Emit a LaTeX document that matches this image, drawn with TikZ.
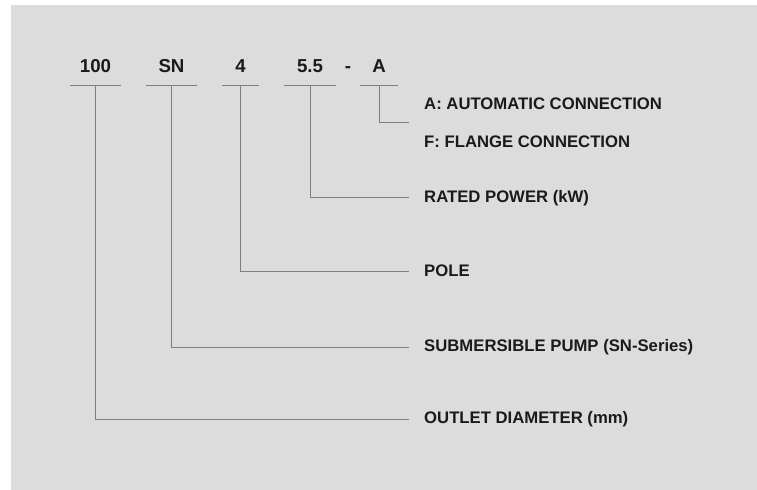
\documentclass[tikz,border=0pt]{standalone}
\usepackage{fontspec}
\setmainfont{Liberation Sans}
\definecolor{bgc}{HTML}{DCDCDC}
\definecolor{lnc}{HTML}{7E7E7E}
\definecolor{txc}{HTML}{1A1A1A}
\begin{document}
\begin{tikzpicture}[x=1bp,y=-1bp,
  ln/.style={draw=lnc,line width=1bp},
  code/.style={anchor=south,inner sep=0pt,text=txc,font=\fontsize{18.7bp}{20bp}\selectfont\bfseries,
    text height=13.4bp,text depth=13.3bp},
  lab/.style={anchor=west,inner xsep=15bp,inner ysep=0pt,text=txc,font=\fontsize{16.7bp}{18bp}\selectfont\bfseries,
    text height=12bp,text depth=3bp}]
\useasboundingbox (0,0) rectangle (757,490);
\fill[bgc] (11,5) rectangle (757,490);
% code parts
\node[code,minimum width=51bp] (c100) at (95.5,86) {100};
\node[code,minimum width=51bp] (cSN) at (171.5,86) {SN};
\node[code,minimum width=37bp] (c4) at (240.5,86) {4};
\node[code,minimum width=52bp] (c55) at (310,86) {5.5};
\node[code,minimum width=38bp] (cA) at (379,86) {A};
\node[code] (dash) at (348,86) {-};
% underlines
\foreach \n in {c100,cSN,c4,c55,cA}{\draw[ln] (\n.south west) -- (\n.south east);}
% labels
\node[lab] (lA) at (409,105) {A: AUTOMATIC CONNECTION};
\node[lab] (lF) at (409,143) {F: FLANGE CONNECTION};
\coordinate (pA) at (409,123);
\node[lab] (lP) at (409,198) {RATED POWER (kW)};
\node[lab] (lPole) at (409,272) {POLE};
\node[lab] (lS) at (409,347) {SUBMERSIBLE PUMP (SN-Series)};
\node[lab] (lO) at (409,419) {OUTLET DIAMETER (mm)};
% connectors
\draw[ln] (cA.south) |- (pA);
\draw[ln] (c55.south) |- (lP.west);
\draw[ln] (c4.south) |- (lPole.west);
\draw[ln] (cSN.south) |- (lS.west);
\draw[ln] (c100.south) |- (lO.west);
\end{tikzpicture}
\end{document}
